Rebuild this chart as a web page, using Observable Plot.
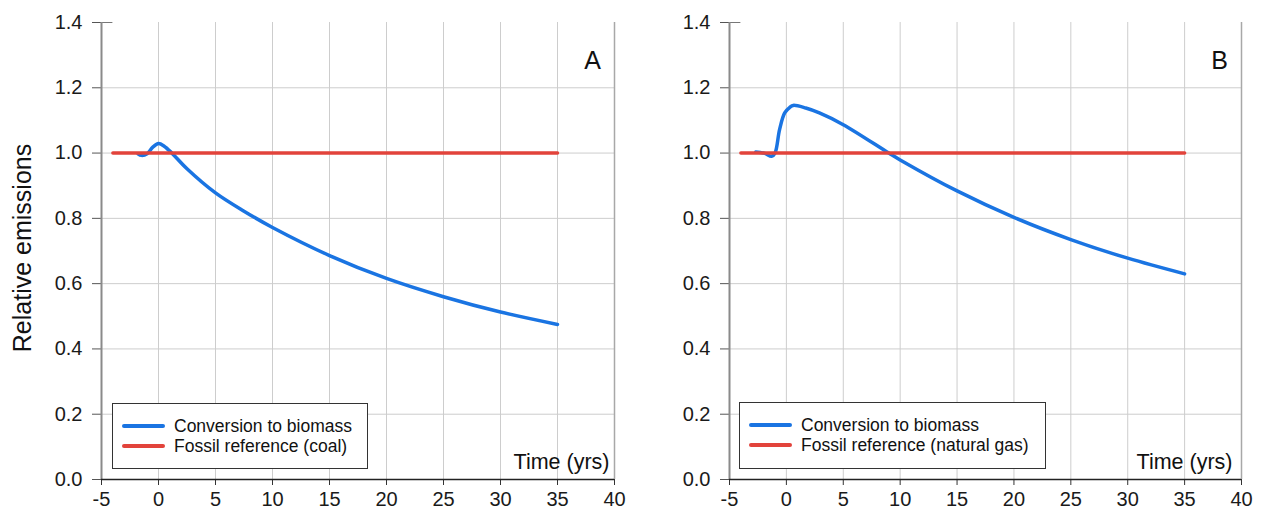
<!DOCTYPE html>
<html>
<head>
<meta charset="utf-8">
<script src="https://cdn.jsdelivr.net/npm/d3@7"></script>
<script src="https://cdn.jsdelivr.net/npm/@observablehq/plot@0.6"></script>
<style>
  body { margin: 0; background: #fff; font-family: "Liberation Sans", Arial, sans-serif; }
  #wrap { position: relative; width: 1263px; height: 519px; display: flex; }
  #wrap svg { display: block; flex: none; }
  .legend { position: absolute; box-sizing: border-box; border: 1.5px solid #333; background: #fff; font-size: 17.5px; color: #111; }
  .legend .row { position: absolute; left: 0; height: 20px; display: flex; align-items: center; white-space: nowrap; }
  .legend .swatch { display: inline-block; width: 43px; height: 4.5px; border-radius: 2.5px; margin-left: 9px; margin-right: 9px; }
</style>
</head>
<body>
<div id="wrap"></div>
<script>
// ---- data ----
const xTicks = [-5, 0, 5, 10, 15, 20, 25, 30, 35, 40];
const yTicks = [0, 0.2, 0.4, 0.6, 0.8, 1.0, 1.2, 1.4];

// Panel A: conversion to biomass vs coal
const timeA    = [-1.8, -1.5, -1.0, -0.5, 0, 0.5, 1.2, 2.5, 5, 7.5, 10, 15, 20, 25, 30, 35];
const biomassA = [0.998, 0.993, 0.998, 1.018, 1.029, 1.021, 0.999, 0.952, 0.878, 0.822, 0.772, 0.686, 0.616, 0.560, 0.513, 0.475];

// Panel B: conversion to biomass vs natural gas
const timeB    = [-2.7, -1.9, -1.3, -1.0, -0.6, -0.15, 0.3, 0.6, 1.7, 2.9, 5, 9, 10, 15, 20, 25, 30, 35];
const biomassB = [1.003, 0.999, 0.99, 1.0, 1.072, 1.123, 1.14, 1.146, 1.138, 1.123, 1.087, 1.0, 0.979, 0.884, 0.803, 0.735, 0.678, 0.630];

// Fossil reference (both panels)
const fossilTime  = [-4, 35];
const fossilValue = [1.0, 1.0];

const seriesNames = ["Conversion to biomass"];
const fossilNamesA = "Fossil reference (coal)";
const fossilNamesB = "Fossil reference (natural gas)";

const BLUE = "#1a74e2";
const RED = "#e2433b";
const FONT = "'Liberation Sans', Arial, sans-serif";

function rows(xs, ys) { return xs.map((x, i) => ({x, y: ys[i]})); }

function panel({time, biomass, letter, width, marginLeft, marginRight, ylabel, timeDx}) {
  const marks = [
    Plot.gridX(xTicks.filter(t => t > -5 && t < 40), {stroke: "#cdcdcd", strokeOpacity: 1}),
    Plot.gridY(yTicks.filter(t => t > 0 && t < 1.4), {stroke: "#cdcdcd", strokeOpacity: 1}),
    Plot.ruleX([40], {stroke: "#a8a8a8", strokeWidth: 1.5}),
    Plot.axisX(xTicks, {tickSize: 6, tickPadding: 6, fontSize: 20, label: null, stroke: "#333", tickFormat: d => String(d)}),
    Plot.axisY(yTicks, {tickSize: 9, tickPadding: 10, fontSize: 20, tickFormat: d3.format(".1f"), label: null, stroke: "#555"}),
    Plot.ruleY([1.4], {x1: -5, x2: -4, stroke: "#777"}),
    Plot.ruleX([-5], {stroke: "#8a8a8a", strokeWidth: 2}),
    Plot.ruleY([0], {stroke: "#222", strokeWidth: 1.5}),
    Plot.line(rows(time, biomass), {x: "x", y: "y", stroke: BLUE, strokeWidth: 3.5, curve: "catmull-rom", strokeLinecap: "round"}),
    Plot.line(rows(fossilTime, fossilValue), {x: "x", y: "y", stroke: RED, strokeWidth: 3.5}),
    Plot.text([letter], {frameAnchor: "top-right", dx: -22, dy: 38, fontSize: 25, textAnchor: "middle", lineAnchor: "middle", fill: "#111"}),
    Plot.text(["Time (yrs)"], {frameAnchor: "bottom-right", dx: timeDx, dy: -17, fontSize: 21.5, textAnchor: "end", lineAnchor: "middle", fill: "#111"})
  ];
  if (ylabel) {
    marks.push(Plot.text([ylabel], {frameAnchor: "left", dx: -79, dy: -3, rotate: -90, fontSize: 25, textAnchor: "middle", lineAnchor: "middle", fill: "#111"}));
  }
  return Plot.plot({
    width, height: 519,
    marginLeft, marginRight, marginTop: 22, marginBottom: 40,
    style: {fontFamily: FONT, fontSize: "20px", color: "#1a1a1a", background: "transparent", overflow: "visible"},
    x: {domain: [-5, 40]},
    y: {domain: [0, 1.4]},
    marks
  });
}

const wrap = document.getElementById("wrap");
wrap.append(panel({time: timeA, biomass: biomassA, letter: "A", width: 631, marginLeft: 101, marginRight: 17, ylabel: "Relative emissions", timeDx: -5}));
wrap.append(panel({time: timeB, biomass: biomassB, letter: "B", width: 632, marginLeft: 98, marginRight: 22, ylabel: null, timeDx: -9}));

function legend(left, top, width, height, fossilLabel) {
  const div = document.createElement("div");
  div.className = "legend";
  Object.assign(div.style, {left: left + "px", top: top + "px", width: width + "px", height: height + "px"});
  const items = [[seriesNames[0], BLUE, 12], [fossilLabel, RED, 32]];
  for (const [label, color, y] of items) {
    const r = document.createElement("div");
    r.className = "row";
    r.style.top = y + "px";
    const s = document.createElement("span");
    s.className = "swatch";
    s.style.background = color;
    const t = document.createElement("span");
    t.textContent = label;
    r.append(s, t);
    div.append(r);
  }
  wrap.append(div);
}
legend(112, 403, 256, 66, fossilNamesA);
legend(739, 402, 307, 67, fossilNamesB);
</script>
</body>
</html>
